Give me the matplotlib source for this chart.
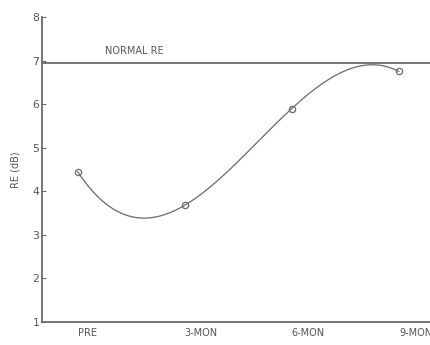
import numpy as np
import matplotlib.pyplot as plt

# 측정 시점과 RE 값 (dB)
months = np.array([0, 3, 6, 9])
re_db = np.array([4.45, 3.68, 5.90, 6.75])
tick_labels = ['PRE', '3-MON', '6-MON', '9-MON']
normal_re = 6.95

# 3차 다항식 피팅
coef = np.polyfit(months, re_db, 3)
xs = np.linspace(months[0], months[-1], 300)
ys = np.polyval(coef, xs)

gray = '#6a6a6a'
txt = '#555555'
fs = 7.8
fig = plt.figure(figsize=(4.31, 3.45), dpi=100)
ax = fig.add_axes([42 / 431, 23 / 345, 1 - 42 / 431, 305 / 345])

ax.plot(xs, ys, color=gray, lw=0.9)
ax.plot(months, re_db, 'o', mfc='none', mec=gray, ms=4.5, mew=0.9)
ax.axhline(normal_re, color=gray, lw=1.3)
ax.text(1.6, normal_re + 0.2, 'NORMAL RE', fontsize=fs - 0.8, color=txt, ha='center')

ax.set_xlim(-1.0, 9.9)
ax.set_ylim(1, 8)
ax.set_xticks(months)
ax.set_xticklabels(tick_labels, ha='left')
ax.set_yticks(range(1, 9))
ax.tick_params(axis='x', length=0, pad=4, labelsize=fs - 0.8, labelcolor=txt)
ax.tick_params(axis='y', direction='in', length=3, width=0.8, color=gray,
               pad=2, labelsize=fs, labelcolor=txt)
ax.set_ylabel('RE (dB)', fontsize=fs - 0.8, color=txt)
ax.yaxis.set_label_coords(-0.055, 0.50)

for side in ['top', 'right']:
    ax.spines[side].set_visible(False)
for side in ['left', 'bottom']:
    ax.spines[side].set_color(gray)
    ax.spines[side].set_linewidth(1.3)

fig.savefig('out.png', dpi=100)
